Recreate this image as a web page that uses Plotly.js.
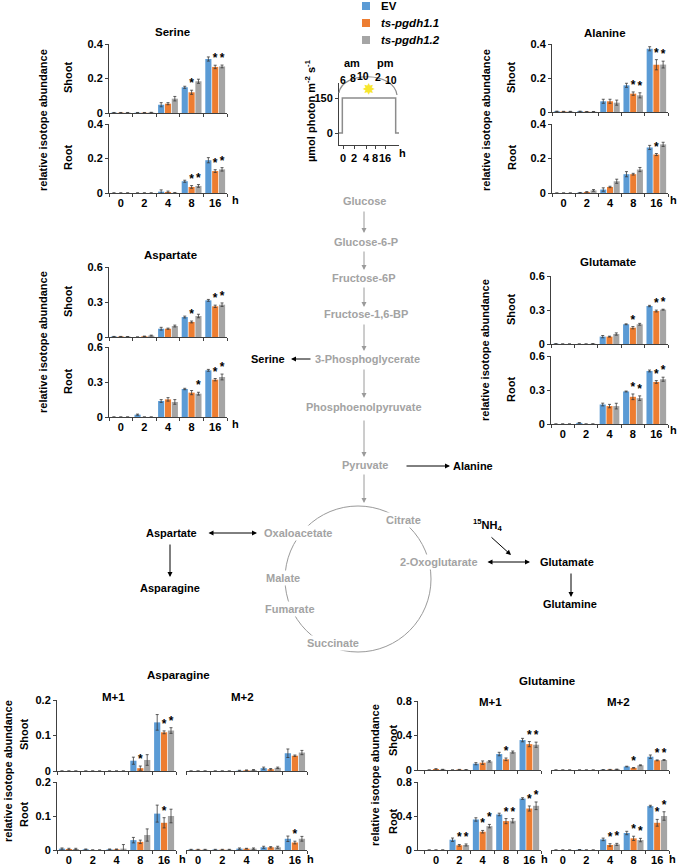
<!DOCTYPE html>
<html>
<head>
<meta charset="utf-8">
<script src="https://cdn.plot.ly/plotly-3.0.1.min.js"></script>
<style>body{margin:0;background:#fff}#chart{width:680px;height:865px}</style>
</head>
<body>
<div id="chart"></div>
<script>
// sampling times (h) and the three lines
var hours = ["0", "2", "4", "8", "16"];
var seriesNames = ["EV", "<i>ts-pgdh1.1</i>", "<i>ts-pgdh1.2</i>"];
var seriesColors = ["#5b9bd5", "#ed7d31", "#a5a5a5"];

// rows: EV, ts-pgdh1.1, ts-pgdh1.2 ; sig rows: ts-pgdh1.1, ts-pgdh1.2
var serShootMean = [[0.002,0.002,0.048,0.149,0.313],[0.002,0.002,0.054,0.120,0.267],[0.002,0.003,0.083,0.184,0.270]];
var serShootErr  = [[0.001,0.001,0.012,0.006,0.012],[0.001,0.001,0.006,0.012,0.010],[0.001,0.001,0.013,0.012,0.008]];
var serShootSig  = [[0,0,0,1,1],[0,0,0,0,1]];
var serRootMean  = [[0,0,0.008,0.068,0.190],[0,0,0.006,0.035,0.127],[0,0,0.001,0.041,0.137]];
var serRootErr   = [[0.001,0.001,0.010,0.006,0.015],[0.001,0.001,0.005,0.008,0.008],[0.001,0.001,0.002,0.008,0.010]];
var serRootSig   = [[0,0,0,1,1],[0,0,0,1,1]];

var alaShootMean = [[0.004,0.004,0.063,0.157,0.372],[0.003,0.002,0.063,0.108,0.278],[0.003,0.002,0.055,0.098,0.279]];
var alaShootErr  = [[0.001,0.001,0.012,0.012,0.012],[0.001,0.001,0.012,0.010,0.030],[0.001,0.001,0.015,0.015,0.020]];
var alaShootSig  = [[0,0,0,1,1],[0,0,0,1,1]];
var alaRootMean  = [[0,0.002,0.020,0.109,0.264],[0,0.006,0.035,0.109,0.223],[0,0.015,0.068,0.136,0.282]];
var alaRootErr   = [[0,0.001,0.010,0.015,0.012],[0,0.002,0.004,0.005,0.006],[0,0.005,0.012,0.012,0.012]];
var alaRootSig   = [[0,0,0,0,1],[0,0,0,0,0]];

var aspShootMean = [[0.004,0,0.071,0.171,0.314],[0.004,0.006,0.071,0.129,0.263],[0.003,0.012,0.094,0.180,0.277]];
var aspShootErr  = [[0.001,0,0.012,0.008,0.008],[0.001,0.002,0.005,0.008,0.010],[0.001,0.004,0.008,0.015,0.015]];
var aspShootSig  = [[0,0,0,1,1],[0,0,0,0,1]];
var aspRootMean  = [[0,0.020,0.137,0.240,0.400],[0,0,0.151,0.209,0.320],[0,0,0.129,0.200,0.343]];
var aspRootErr   = [[0,0.005,0.012,0.006,0.008],[0,0,0.015,0.018,0.010],[0,0,0.020,0.012,0.025]];
var aspRootSig   = [[0,0,0,0,1],[0,0,0,1,1]];

var gluShootMean = [[0.002,0,0.065,0.174,0.335],[0,0,0.065,0.144,0.291],[0,0.002,0.088,0.174,0.303]];
var gluShootErr  = [[0.001,0,0.010,0.004,0.006],[0,0,0.004,0.010,0.008],[0,0.001,0.010,0.008,0.004]];
var gluShootSig  = [[0,0,0,1,1],[0,0,0,0,1]];
var gluRootMean  = [[0,0.010,0.172,0.287,0.468],[0,0,0.158,0.240,0.371],[0,0,0.158,0.228,0.395]];
var gluRootErr   = [[0,0.003,0.012,0.004,0.008],[0,0,0.015,0.025,0.012],[0,0,0.025,0.020,0.018]];
var gluRootSig   = [[0,0,0,1,1],[0,0,0,1,1]];

var asn1ShootMean = [[0,0,0,0.029,0.137],[0,0,0,0.008,0.109],[0,0,0,0.031,0.114]];
var asn1ShootErr  = [[0,0,0,0.010,0.022],[0,0,0,0.006,0.004],[0,0,0,0.015,0.008]];
var asn1ShootSig  = [[0,0,0,1,1],[0,0,0,0,1]];
var asn2ShootMean = [[0,0,0.001,0.008,0.050],[0,0,0.002,0.005,0.043],[0,0,0.003,0.009,0.052]];
var asn2ShootErr  = [[0,0,0.001,0.003,0.012],[0,0,0.001,0.002,0.002],[0,0,0.001,0.002,0.006]];
var asn2ShootSig  = [[0,0,0,0,0],[0,0,0,0,0]];
var asn1RootMean  = [[0.004,0.002,0.002,0.029,0.107],[0.003,0,0.002,0.024,0.080],[0.003,0,0.004,0.044,0.100]];
var asn1RootErr   = [[0.002,0.001,0.001,0.008,0.025],[0.002,0,0.001,0.005,0.015],[0.002,0,0.012,0.018,0.020]];
var asn1RootSig   = [[0,0,0,0,1],[0,0,0,0,0]];
var asn2RootMean  = [[0.001,0.001,0.004,0.008,0.033],[0.001,0.001,0.004,0.008,0.022],[0.001,0.001,0.004,0.008,0.033]];
var asn2RootErr   = [[0.001,0.001,0.002,0.003,0.008],[0.001,0.001,0.001,0.002,0.004],[0.001,0.001,0.002,0.003,0.007]];
var asn2RootSig   = [[0,0,0,0,1],[0,0,0,0,0]];

var gln1ShootMean = [[0,0,0.073,0.185,0.347],[0.012,0.005,0.085,0.124,0.300],[0.006,0.003,0.100,0.208,0.293]];
var gln1ShootErr  = [[0,0,0.012,0.020,0.020],[0.003,0.002,0.020,0.015,0.030],[0.002,0.001,0.008,0.012,0.030]];
var gln1ShootSig  = [[0,0,0,1,1],[0,0,0,0,1]];
var gln2ShootMean = [[0,0,0.003,0.040,0.154],[0,0,0.005,0.025,0.112],[0,0,0.008,0.055,0.116]];
var gln2ShootErr  = [[0,0,0.001,0.004,0.020],[0,0,0.002,0.003,0.005],[0,0,0.002,0.005,0.005]];
var gln2ShootSig  = [[0,0,0,1,1],[0,0,0,0,1]];
var gln1RootMean  = [[0,0.121,0.359,0.418,0.605],[0,0.055,0.215,0.340,0.488],[0,0.059,0.281,0.344,0.520]];
var gln1RootErr   = [[0,0.020,0.020,0.015,0.010],[0,0.010,0.015,0.030,0.030],[0,0.012,0.020,0.025,0.045]];
var gln1RootSig   = [[0,1,1,1,1],[0,1,1,1,1]];
var gln2RootMean  = [[0,0.004,0.125,0.200,0.516],[0,0,0.059,0.137,0.320],[0,0,0.066,0.117,0.400]];
var gln2RootErr   = [[0,0.001,0.015,0.020,0.010],[0,0,0.015,0.025,0.040],[0,0,0.012,0.020,0.050]];
var gln2RootSig   = [[0,0,1,1,1],[0,0,1,1,1]];

// light regime inset
var lightHour = [-1, 0, 0, 16, 16, 17];
var lightPPFD = [0, 0, 150, 150, 0, 0];
var lightTicks = ["0", "2", "4", "8", "16"];

var FONT = '"Liberation Sans", Arial, sans-serif';
var W = 680, H = 865;
function X(p) { return p / W; }
function Y(p) { return 1 - p / H; }

var offsets = [-0.29, 0, 0.29];
var barW = 0.26;
var axCol = "#404040";

var panels = [
  {m: serShootMean, e: serShootErr, s: serShootSig, x0: 109, x1: 227, yb: 113, yt: 44, yt2: [0, 0.2, 0.4], yAx: true, xLab: false},
  {m: serRootMean, e: serRootErr, s: serRootSig, x0: 109, x1: 227, yb: 193, yt: 124, yt2: [0, 0.2, 0.4], yAx: true, xLab: true},
  {m: alaShootMean, e: alaShootErr, s: alaShootSig, x0: 552, x1: 668, yb: 112, yt: 44, yt2: [0, 0.2, 0.4], yAx: true, xLab: false},
  {m: alaRootMean, e: alaRootErr, s: alaRootSig, x0: 552, x1: 668, yb: 193, yt: 124, yt2: [0, 0.2, 0.4], yAx: true, xLab: true},
  {m: aspShootMean, e: aspShootErr, s: aspShootSig, x0: 109, x1: 227, yb: 337, yt: 267, yt2: [0, 0.3, 0.6], yAx: true, xLab: false},
  {m: aspRootMean, e: aspRootErr, s: aspRootSig, x0: 109, x1: 227, yb: 417, yt: 347, yt2: [0, 0.3, 0.6], yAx: true, xLab: true},
  {m: gluShootMean, e: gluShootErr, s: gluShootSig, x0: 551, x1: 668, yb: 344, yt: 276, yt2: [0, 0.3, 0.6], yAx: true, xLab: false},
  {m: gluRootMean, e: gluRootErr, s: gluRootSig, x0: 551, x1: 668, yb: 424, yt: 356, yt2: [0, 0.3, 0.6], yAx: true, xLab: true},
  {m: asn1ShootMean, e: asn1ShootErr, s: asn1ShootSig, x0: 57, x1: 176, yb: 771, yt: 700, yt2: [0, 0.1, 0.2], yAx: true, xLab: false},
  {m: asn1RootMean, e: asn1RootErr, s: asn1RootSig, x0: 57, x1: 176, yb: 850, yt: 782, yt2: [0, 0.1, 0.2], yAx: true, xLab: true},
  {m: asn2ShootMean, e: asn2ShootErr, s: asn2ShootSig, x0: 186, x1: 307, yb: 771, yt: 700, yt2: [0, 0.1, 0.2], yAx: false, xLab: false},
  {m: asn2RootMean, e: asn2RootErr, s: asn2RootSig, x0: 186, x1: 307, yb: 850, yt: 782, yt2: [0, 0.1, 0.2], yAx: false, xLab: true},
  {m: gln1ShootMean, e: gln1ShootErr, s: gln1ShootSig, x0: 418, x1: 541, xr0: -0.77, yb: 770, yt: 701, yt2: [0, 0.4, 0.8], yAx: true, xLab: false},
  {m: gln1RootMean, e: gln1RootErr, s: gln1RootSig, x0: 418, x1: 541, xr0: -0.77, yb: 850, yt: 782, yt2: [0, 0.4, 0.8], yAx: true, xLab: true},
  {m: gln2ShootMean, e: gln2ShootErr, s: gln2ShootSig, x0: 551, x1: 669, yb: 770, yt: 701, yt2: [0, 0.4, 0.8], yAx: false, xLab: false},
  {m: gln2RootMean, e: gln2RootErr, s: gln2RootSig, x0: 551, x1: 669, yb: 850, yt: 782, yt2: [0, 0.4, 0.8], yAx: false, xLab: true}
];

var data = [];
var layout = {
  width: W, height: H,
  margin: {l: 0, r: 0, t: 0, b: 0},
  paper_bgcolor: "#fff", plot_bgcolor: "rgba(0,0,0,0)",
  font: {family: FONT, size: 11, color: "#000", weight: "bold"},
  barmode: "overlay",
  showlegend: false,
  annotations: [],
  shapes: []
};

panels.forEach(function (p, k) {
  var n = k + 1;
  var sfx = n === 1 ? "" : String(n);
  for (var s = 0; s < 3; s++) {
    var xs = hours.map(function (h, i) { return i + offsets[s]; });
    data.push({
      type: "bar", x: xs, y: p.m[s], width: barW,
      name: seriesNames[s],
      marker: {color: seriesColors[s], line: {width: 0}},
      error_y: {type: "data", array: p.e[s], visible: true, color: "#3a3a3a", thickness: 0.8, width: 1.5},
      xaxis: "x" + sfx, yaxis: "y" + sfx, hoverinfo: "skip"
    });
    if (s > 0) {
      var sx = [], sy = [];
      p.s[s - 1].forEach(function (f, i) {
        if (f) { sx.push(i + offsets[s]); sy.push(p.m[s][i] + p.e[s][i]); }
      });
      if (sx.length) {
        data.push({
          type: "scatter", mode: "text", x: sx, y: sy, text: sx.map(function () { return "*"; }),
          textposition: "top center", textfont: {family: FONT, size: 12, color: "#000", weight: "bold"},
          cliponaxis: false, hoverinfo: "skip",
          xaxis: "x" + sfx, yaxis: "y" + sfx
        });
      }
    }
  }
  layout["xaxis" + sfx] = {
    domain: [X(p.x0), X(p.x1)], range: [p.xr0 || -0.5, 4.5], anchor: "y" + sfx,
    showline: true, linecolor: axCol, linewidth: 1, showgrid: false, zeroline: false,
    tickmode: "array", tickvals: [0, 1, 2, 3, 4], ticktext: hours, ticks: "", tickangle: 0,
    showticklabels: p.xLab, tickfont: {family: FONT, size: 11, weight: "bold"},
    minor: {tickmode: "array", tickvals: [-0.5, 0.5, 1.5, 2.5, 3.5, 4.5], ticks: "outside", ticklen: 3, tickcolor: axCol, showgrid: false},
    fixedrange: true
  };
  layout["yaxis" + sfx] = {
    domain: [Y(p.yb), Y(p.yt)], range: [0, p.yt2[2]], anchor: "x" + sfx,
    showline: p.yAx, linecolor: axCol, linewidth: 1, showgrid: false, zeroline: false,
    tickmode: "array", tickvals: p.yt2, ticks: p.yAx ? "outside" : "", ticklen: 3, tickcolor: axCol,
    showticklabels: p.yAx, tickfont: {family: FONT, size: 11, weight: "bold"}, fixedrange: true
  };
});

// light inset (axis 17)
data.push({
  type: "scatter", mode: "lines", x: lightHour, y: lightPPFD,
  line: {color: "#8c8c8c", width: 1.5}, hoverinfo: "skip",
  xaxis: "x17", yaxis: "y17"
});
layout.xaxis17 = {
  domain: [X(339), X(399)], range: [-1, 17], anchor: "y17",
  showline: true, linecolor: axCol, showgrid: false, zeroline: false,
  tickmode: "array", tickvals: [0.2, 3.5, 7.1, 9.8, 12.8], ticktext: lightTicks, tickangle: 0,
  ticks: "outside", ticklen: 3, tickcolor: axCol, tickfont: {family: FONT, size: 11, weight: "bold"}, fixedrange: true
};
layout.yaxis17 = {
  domain: [Y(145), Y(83)], range: [-51.4, 214.3], anchor: "x17",
  showline: true, linecolor: axCol, showgrid: false, zeroline: false,
  tickmode: "array", tickvals: [0, 150], ticks: "outside", ticklen: 3, tickcolor: axCol,
  tickfont: {family: FONT, size: 11, weight: "bold"}, fixedrange: true
};

function txt(t, x, y, o) {
  o = o || {};
  var a = {
    text: t, x: X(x), y: Y(y), xref: "paper", yref: "paper", showarrow: false,
    xanchor: o.xa || "center", yanchor: "middle",
    font: {family: FONT, size: o.size || 11, color: o.color || "#000", weight: "bold"}
  };
  if (o.rot) a.textangle = o.rot;
  if (o.bg) { a.bgcolor = o.bg; a.borderpad = 1; }
  layout.annotations.push(a);
}
function arrow(hx, hy, tx, ty, col, both) {
  layout.annotations.push({
    text: "", x: X(hx), y: Y(hy), xref: "paper", yref: "paper",
    ax: tx - hx, ay: ty - hy, axref: "pixel", ayref: "pixel",
    showarrow: true, arrowhead: 2, arrowsize: 1, arrowwidth: 1, arrowcolor: col,
    arrowside: both ? "end+start" : "end", standoff: 0, startstandoff: 0
  });
}

// legend
[6, 23, 40].forEach(function (cy, s) {
  layout.shapes.push({type: "rect", xref: "paper", yref: "paper",
    x0: X(362), x1: X(370), y0: Y(cy + 4), y1: Y(cy - 4),
    fillcolor: seriesColors[s], line: {width: 0}});
  txt(seriesNames[s], 379, cy, {xa: "left", size: 11.5});
});

// panel titles
[["Serine", 172, 32], ["Alanine", 605, 33], ["Aspartate", 170, 255], ["Glutamate", 608, 262],
 ["Asparagine", 178, 675], ["M+1", 113, 697], ["M+2", 242, 697],
 ["Glutamine", 547, 681], ["M+1", 490, 702], ["M+2", 618, 702]].forEach(function (t) {
  txt(t[0], t[1], t[2], {size: 11.5});
});
// y labels
[[43, 120], [486, 120], [43, 342], [485, 350], [8, 771], [375, 775]].forEach(function (q) {
  txt("relative isotope abundance", q[0], q[1], {rot: -90});
});
[[68, 78], [511, 78], [68, 302], [511, 310], [24, 735], [393, 740]].forEach(function (q) {
  txt("Shoot", q[0], q[1], {rot: -90});
});
[[68, 158], [512, 158], [68, 382], [511, 390], [24, 815], [393, 821]].forEach(function (q) {
  txt("Root", q[0], q[1], {rot: -90});
});
[[235, 200], [673, 200], [235, 424], [673, 430], [182, 859], [310, 859], [544, 859], [672, 859], [402, 153]].forEach(function (q) {
  txt("h", q[0], q[1]);
});

// light inset labels
txt("µmol photon m<sup>-2</sup> s<sup>-1</sup>", 310, 111, {rot: -90});
txt("am", 352, 63); txt("pm", 385, 63);
[["6", 343, 80], ["8", 353, 78], ["10", 363, 76], ["2", 378, 77], ["10", 391, 80]].forEach(function (t) {
  txt(t[0], t[1], t[2], {size: 10.5});
});
txt("✸", 368, 89, {size: 14, color: "#f7e62c"});
layout.shapes.push({
  type: "path", xref: "paper", yref: "paper",
  path: "M" + X(339) + "," + Y(93) + " C" + X(342) + "," + Y(71) + " " + X(394) + "," + Y(71) + " " + X(397) + "," + Y(95),
  line: {color: "#8c8c8c", width: 1.2}
});

// pathway
var grey = "#a3a3a3";
layout.shapes.push({
  type: "circle", xref: "paper", yref: "paper", layer: "below",
  x0: X(285), x1: X(431), y0: Y(652), y1: Y(506),
  line: {color: "#9a9a9a", width: 1}
});
[["Glucose", 364, 201], ["Glucose-6-P", 366, 242], ["Fructose-6P", 364, 278], ["Fructose-1,6-BP", 366, 314],
 ["3-Phosphoglycerate", 367, 359], ["Phosphoenolpyruvate", 364, 407], ["Pyruvate", 365, 465],
 ["Oxaloacetate", 298, 533], ["Citrate", 403, 520], ["2-Oxoglutarate", 439, 562],
 ["Malate", 283, 578], ["Fumarate", 290, 609], ["Succinate", 333, 643]].forEach(function (t) {
  txt(t[0], t[1], t[2], {color: grey, bg: "#fff"});
});
[["Serine", 268, 359], ["Alanine", 473, 466], ["Aspartate", 171, 533], ["Asparagine", 170, 588],
 ["<sup>15</sup>NH<sub>4</sub>", 487, 525], ["Glutamate", 567, 562], ["Glutamine", 570, 604]].forEach(function (t) {
  txt(t[0], t[1], t[2]);
});
// grey chain arrows
[[233, 210], [270, 250], [307, 286], [351, 323], [398, 368], [457, 419], [503, 473]].forEach(function (q) {
  arrow(364, q[0], 364, q[1], "#9a9a9a", false);
});
arrow(291, 359, 312, 359, "#000", false);
arrow(450, 466, 405, 466, "#000", false);
arrow(257, 533, 207, 533, "#000", true);
arrow(170, 577, 170, 543, "#000", false);
arrow(511, 555, 490, 536, "#000", false);
arrow(530, 562, 486, 562, "#000", true);
arrow(571, 597, 571, 572, "#000", false);

Plotly.newPlot("chart", data, layout, {staticPlot: true, displayModeBar: false});
</script>
</body>
</html>
